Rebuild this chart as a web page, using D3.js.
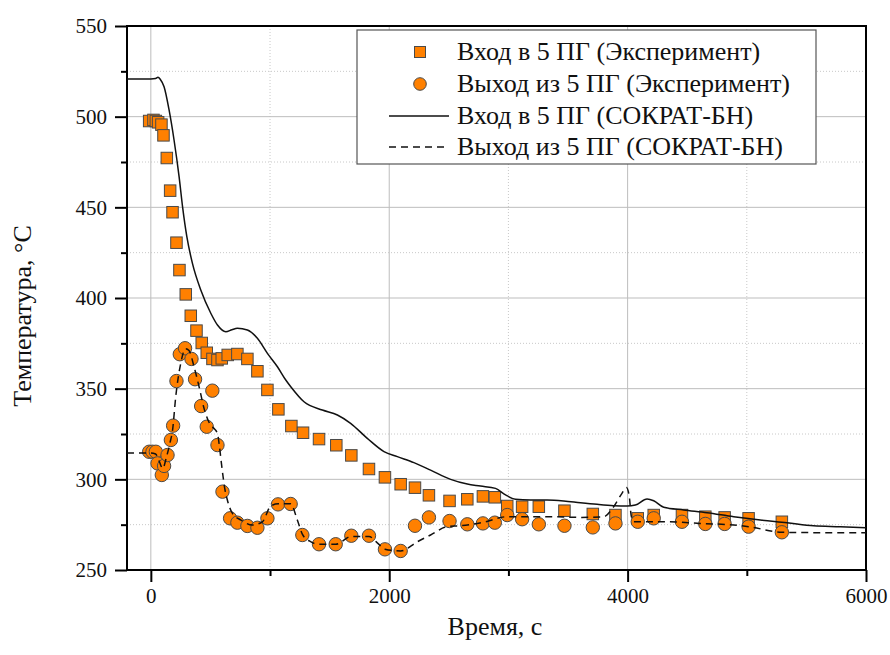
<!DOCTYPE html>
<html>
<head>
<meta charset="utf-8">
<script src="https://cdn.jsdelivr.net/npm/d3@7"></script>
<style>
  body { margin: 0; background: #fff; }
  svg { display: block; font-family: "Liberation Serif", "Times New Roman", serif; }
</style>
</head>
<body>
<div id="chart"></div>
<script>
// Экспериментальные данные: вход в 5 ПГ
const inletExpTime = [-14, 22, 42, 61, 89, 106, 134, 162, 182, 215, 240, 293, 335, 383, 427, 469, 517, 559, 595, 645, 726, 810, 894, 978, 1070, 1179, 1277, 1411, 1556, 1682, 1830, 1964, 2096, 2216, 2333, 2506, 2655, 2786, 2886, 2990, 3115, 3255, 3470, 3708, 3898, 4085, 4219, 4456, 4652, 4814, 5015, 5294];
const inletExpTemp = [497.6, 498.2, 497.6, 496.9, 495.6, 489.7, 477.2, 459.2, 447.3, 430.5, 415.4, 402, 390.2, 382, 375.2, 369.8, 366.4, 365.8, 366.7, 368.6, 369.1, 366.4, 359.6, 349.3, 338.6, 329.4, 325.7, 322.2, 318.8, 313.2, 305.7, 301.1, 297.3, 295.4, 291.2, 288.1, 289, 290.6, 290.1, 285.3, 284.9, 284.9, 282.7, 280.9, 280.3, 278.5, 280.3, 280.3, 279.4, 279, 278.5, 276.6];

// Экспериментальные данные: выход из 5 ПГ
const outletExpTime = [-14, 14, 42, 56, 92, 111, 140, 168, 187, 215, 243, 287, 341, 371, 422, 469, 516, 559, 601, 665, 726, 810, 894, 978, 1067, 1173, 1271, 1411, 1551, 1682, 1830, 1964, 2096, 2216, 2333, 2506, 2655, 2786, 2886, 2990, 3115, 3255, 3470, 3708, 3898, 4085, 4219, 4456, 4652, 4814, 5015, 5294];
const outletExpTemp = [315.2, 315.2, 315.2, 308.8, 302.4, 307.4, 313.4, 321.7, 329.6, 354.2, 369, 372.3, 366.4, 355.2, 340.4, 329, 348.9, 318.9, 293.2, 278.5, 276.1, 274.3, 273.3, 278.5, 286.2, 286.4, 269.3, 264.2, 264.2, 268.9, 268.9, 261.4, 260.5, 274.4, 279, 277, 275.2, 275.7, 276.1, 280.3, 278, 275.2, 274.4, 273.5, 275.7, 276.6, 278.5, 276.6, 275.4, 275.4, 273.9, 270.8];

// Расчёт СОКРАТ-БН: вход
const inletCalcTime = [-200, 0, 40, 60, 80, 111, 153, 195, 237, 266, 302, 349, 419, 503, 559, 629, 680, 726, 810, 894, 978, 1062, 1132, 1174, 1285, 1439, 1565, 1676, 1816, 1956, 2068, 2207, 2347, 2515, 2655, 2766, 2892, 2976, 3059, 3185, 3325, 3464, 3604, 3744, 3884, 3995, 4065, 4163, 4219, 4303, 4470, 4666, 4890, 5113, 5337, 5561, 5784, 6000];
const inletCalcTemp = [520.8, 520.8, 521, 521.7, 520.5, 516.5, 503.7, 487, 466.9, 450.4, 433.8, 419.1, 404.4, 391.6, 385.1, 381.4, 382.5, 383.3, 382.4, 377.8, 369.5, 362.1, 354.8, 351.1, 342.8, 338.2, 335.5, 330.9, 322.6, 315.3, 312.5, 309.2, 305.1, 300, 297.4, 296.3, 295, 291.4, 289, 288.6, 288.6, 288.1, 287.1, 286.2, 285.5, 285.3, 285.8, 289.2, 288.2, 284.6, 283.1, 281.6, 279.4, 277.6, 276.1, 274.4, 273.9, 273.3];

// Расчёт СОКРАТ-БН: выход
const outletCalcTime = [-200, 0, 40, 70, 100, 130, 160, 182, 209, 251, 290, 320, 363, 405, 447, 500, 531, 560, 573, 590, 605, 620, 642, 685, 754, 852, 936, 1006, 1070, 1173, 1229, 1271, 1330, 1411, 1551, 1682, 1830, 1900, 1964, 2096, 2236, 2347, 2486, 2599, 2800, 2990, 3129, 3380, 3604, 3800, 3884, 3950, 3990, 4015, 4030, 4052, 4330, 4610, 4890, 5015, 5294, 5588, 6000];
const outletCalcTemp = [314.5, 314.5, 314, 310, 306, 312, 320, 327, 345.6, 364, 372, 371, 362, 351, 339, 330, 328, 325, 319.5, 310, 302, 295, 288.6, 281.2, 277.6, 274.8, 276.6, 285.3, 286.5, 286.5, 277.6, 269.8, 266, 264.2, 264.2, 268.5, 268.5, 265, 261.5, 260.5, 265.6, 269.3, 273.9, 274.4, 276.5, 279.4, 279.4, 279.4, 279, 279.4, 285, 292, 295.5, 290, 280, 276.6, 276.6, 275.7, 274.8, 273.9, 270.8, 270.6, 270.6];

const xMajorTicks = [0, 2000, 4000, 6000];
const xMinorTicks = [1000, 3000, 5000];
const yMajorTicks = [250, 300, 350, 400, 450, 500, 550];
const yMinorTicks = [275, 325, 375, 425, 475, 525];

const legendLabels = [
  'Вход в 5 ПГ (Эксперимент)',
  'Выход из 5 ПГ (Эксперимент)',
  'Вход в 5 ПГ (СОКРАТ-БН)',
  'Выход из 5 ПГ (СОКРАТ-БН)'
];

const W = 890, H = 655;
const margin = { top: 26, right: 24, bottom: 85, left: 127 };
const width = 866 - margin.left;
const height = 570 - margin.top;
const orange = '#ff8000';
const markerStroke = '#4a4a4a';
const serif = '"Liberation Serif", "Times New Roman", serif';

const svg = d3.select('#chart').append('svg')
  .attr('width', W)
  .attr('height', H);

const g = svg.append('g')
  .attr('transform', `translate(${margin.left},${margin.top})`);

const x = d3.scaleLinear().domain([-200, 6000]).range([0, width]);
const y = d3.scaleLinear().domain([250, 550]).range([height, 0]);

// сетка
g.append('g').selectAll('line.xmaj').data(xMajorTicks).enter().append('line')
  .attr('x1', d => x(d)).attr('x2', d => x(d)).attr('y1', 0).attr('y2', height)
  .attr('stroke', '#bdbdbd').attr('stroke-width', 1);
g.append('g').selectAll('line.xmin').data(xMinorTicks).enter().append('line')
  .attr('x1', d => x(d)).attr('x2', d => x(d)).attr('y1', 0).attr('y2', height)
  .attr('stroke', '#c8c8c8').attr('stroke-width', 1).attr('stroke-dasharray', '1,2');
g.append('g').selectAll('line.ymaj').data(yMajorTicks).enter().append('line')
  .attr('x1', 0).attr('x2', width).attr('y1', d => y(d)).attr('y2', d => y(d))
  .attr('stroke', '#bdbdbd').attr('stroke-width', 1);
g.append('g').selectAll('line.ymin').data(yMinorTicks).enter().append('line')
  .attr('x1', 0).attr('x2', width).attr('y1', d => y(d)).attr('y2', d => y(d))
  .attr('stroke', '#c8c8c8').attr('stroke-width', 1).attr('stroke-dasharray', '1,2');

// оси
const axisFont = 21;
const xAxis = g.append('g')
  .attr('transform', `translate(0,${height})`)
  .call(d3.axisBottom(x).tickValues(xMajorTicks).tickSize(12).tickPadding(6).tickFormat(d3.format('d')));
const xMinor = g.append('g')
  .attr('transform', `translate(0,${height})`)
  .call(d3.axisBottom(x).tickValues(xMinorTicks).tickSize(6).tickFormat(''));
const yAxis = g.append('g')
  .call(d3.axisLeft(y).tickValues(yMajorTicks).tickSize(12).tickPadding(8));
const yMinor = g.append('g')
  .call(d3.axisLeft(y).tickValues(yMinorTicks).tickSize(6).tickFormat(''));

[xAxis, xMinor, yAxis, yMinor].forEach(a => {
  a.attr('font-family', serif);
  a.select('.domain').remove();
  a.selectAll('.tick line').attr('stroke', '#000').attr('stroke-width', 2);
  a.selectAll('.tick text')
    .attr('font-size', axisFont)
    .attr('fill', '#111');
});

// рамка
g.append('rect')
  .attr('x', 0).attr('y', 0).attr('width', width).attr('height', height)
  .attr('fill', 'none').attr('stroke', '#000').attr('stroke-width', 2);

// маркеры
const inletPts = inletExpTime.map((t, i) => [t, inletExpTemp[i]]);
const outletPts = outletExpTime.map((t, i) => [t, outletExpTemp[i]]);
const sq = 11.5;

g.append('g').selectAll('rect.sq').data(inletPts).enter().append('rect')
  .attr('x', d => x(d[0]) - sq / 2)
  .attr('y', d => y(d[1]) - sq / 2)
  .attr('width', sq).attr('height', sq)
  .attr('fill', orange).attr('stroke', markerStroke).attr('stroke-width', 1);

g.append('g').selectAll('circle.ci').data(outletPts).enter().append('circle')
  .attr('cx', d => x(d[0]))
  .attr('cy', d => y(d[1]))
  .attr('r', 6.7)
  .attr('fill', orange).attr('stroke', markerStroke).attr('stroke-width', 1);

// расчётные кривые
const line = d3.line().x(d => x(d[0])).y(d => y(d[1])).curve(d3.curveMonotoneX);
const inletCalc = inletCalcTime.map((t, i) => [t, inletCalcTemp[i]]);
const outletCalc = outletCalcTime.map((t, i) => [t, outletCalcTemp[i]]);

g.append('path').datum(inletCalc)
  .attr('d', line).attr('fill', 'none').attr('stroke', '#111').attr('stroke-width', 1.5);
g.append('path').datum(outletCalc)
  .attr('d', line).attr('fill', 'none').attr('stroke', '#111').attr('stroke-width', 1.5)
  .attr('stroke-dasharray', '7,5');

// легенда
const lg = svg.append('g');
lg.append('rect')
  .attr('x', 357).attr('y', 30).attr('width', 459).attr('height', 134)
  .attr('fill', '#fff').attr('stroke', '#555').attr('stroke-width', 1.2);

const rowY = [52, 84, 116, 147];
legendLabels.forEach((label, i) => {
  const cy = rowY[i];
  if (i === 0) {
    lg.append('rect').attr('x', 420 - 5.5).attr('y', cy - 5.5).attr('width', 11).attr('height', 11)
      .attr('fill', orange).attr('stroke', markerStroke);
  } else if (i === 1) {
    lg.append('circle').attr('cx', 420).attr('cy', cy).attr('r', 6.3)
      .attr('fill', orange).attr('stroke', markerStroke);
  } else {
    lg.append('line').attr('x1', 389).attr('x2', 449).attr('y1', cy).attr('y2', cy)
      .attr('stroke', '#111').attr('stroke-width', 1.5)
      .attr('stroke-dasharray', i === 3 ? '7,5' : null);
  }
  lg.append('text')
    .attr('x', 457).attr('y', cy + 8)
    .attr('font-size', 26)
    .attr('fill', '#111')
    .text(label);
});

// подписи осей
svg.append('text')
  .attr('x', 495).attr('y', 635)
  .attr('text-anchor', 'middle')
  .attr('font-size', 26)
  .attr('fill', '#111')
  .text('Время, с');

svg.append('text')
  .attr('transform', 'translate(31,316) rotate(-90)')
  .attr('text-anchor', 'middle')
  .attr('font-size', 26)
  .attr('fill', '#111')
  .text('Температура, °C');
</script>
</body>
</html>
